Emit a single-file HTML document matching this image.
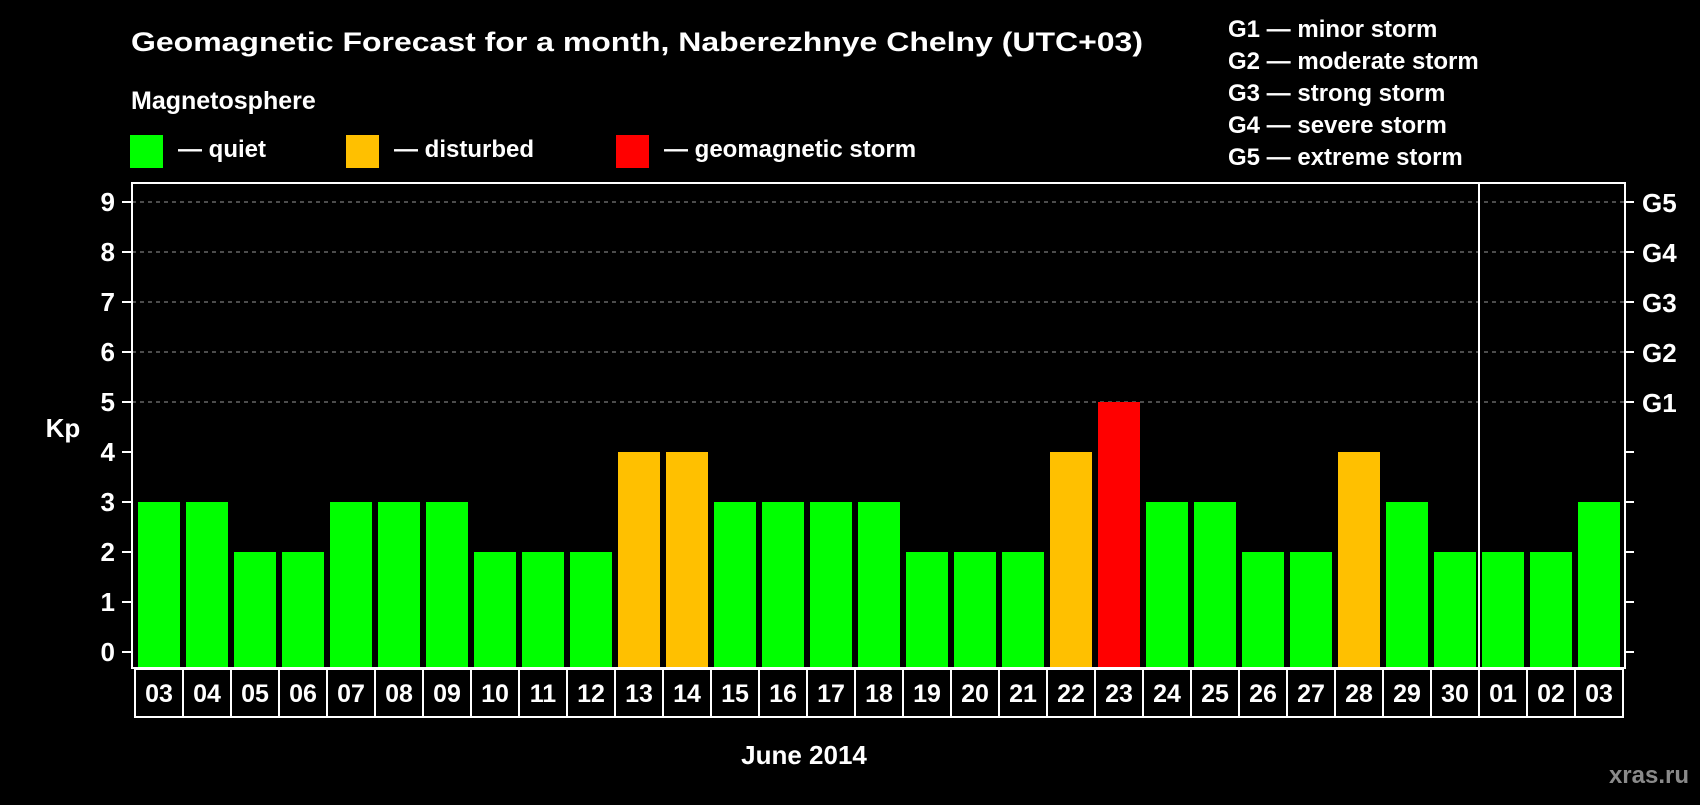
<!DOCTYPE html>
<html><head><meta charset="utf-8"><style>
html,body{margin:0;padding:0;background:#000;}
svg text{font-family:"Liberation Sans",Arial,sans-serif;font-weight:bold;fill:#fff;}
</style></head><body>
<svg id="chart" width="1700" height="800" xmlns="http://www.w3.org/2000/svg">
<rect width="1700" height="800" fill="#000"/>
<text x="131" y="51" font-size="27" textLength="1012" lengthAdjust="spacingAndGlyphs">Geomagnetic Forecast for a month, Naberezhnye Chelny (UTC+03)</text>
<text x="131" y="109" font-size="25">Magnetosphere</text>
<rect x="130" y="135" width="33" height="33" fill="#00ff00"/>
<text x="178" y="157" font-size="24">— quiet</text>
<rect x="346" y="135" width="33" height="33" fill="#ffc000"/>
<text x="394" y="157" font-size="24">— disturbed</text>
<rect x="616" y="135" width="33" height="33" fill="#ff0000"/>
<text x="664" y="157" font-size="24">— geomagnetic storm</text>
<g font-size="24">
<text x="1228" y="37">G1 — minor storm</text>
<text x="1228" y="69">G2 — moderate storm</text>
<text x="1228" y="101">G3 — strong storm</text>
<text x="1228" y="133">G4 — severe storm</text>
<text x="1228" y="165">G5 — extreme storm</text>
</g>
<text x="63" y="437" font-size="26" text-anchor="middle">Kp</text>
<text x="804" y="764" font-size="26" text-anchor="middle">June 2014</text>
<text x="1689" y="783" font-size="24" text-anchor="end" style="fill:#8a8a8a">xras.ru</text>
<g id="grid"></g><g id="bars"></g><g id="axes"></g><g id="xlabels"></g>
</svg>
<script>
const categories=["03","04","05","06","07","08","09","10","11","12","13","14","15","16","17","18","19","20","21","22","23","24","25","26","27","28","29","30","01","02","03"];
const kpValues=[3,3,2,2,3,3,3,2,2,2,4,4,3,3,3,3,2,2,2,4,5,3,3,2,2,4,3,2,2,2,3];
const yTicks=[0,1,2,3,4,5,6,7,8,9];
const gLabels=["","","","","","G1","G2","G3","G4","G5"];
const monthBreakIndex=28;
const NS="http://www.w3.org/2000/svg";
const plotL=132,plotR=1625,plotT=183,plotB=668,slot0=135,slotW=48,barW=42;
function yScale(v){return 652-50*v;}
function xSlot(i){return slot0+i*slotW;}
function mk(tag,attrs,parent){const e=document.createElementNS(NS,tag);for(const k in attrs)e.setAttribute(k,attrs[k]);parent.appendChild(e);return e;}
const grid=document.getElementById('grid'),bars=document.getElementById('bars'),axes=document.getElementById('axes'),xl=document.getElementById('xlabels');
yTicks.forEach((t,i)=>{
  const y=yScale(t);
  if(gLabels[i]){
    const g=mk('line',{x1:plotL,x2:plotR,y1:y,y2:y,stroke:'#999','stroke-width':1,'stroke-dasharray':'4,4'},grid);
    
    
  }
  const tl=mk('line',{x1:122,x2:plotL,y1:y,y2:y,stroke:'#fff','stroke-width':2},axes);
  
  
  const tr=mk('line',{x1:plotR,x2:1634,y1:y,y2:y,stroke:'#fff','stroke-width':2},axes);
  
  
  const lab=mk('text',{x:115,y:y+9,'font-size':26,'text-anchor':'end'},axes);
  lab.textContent=t;
  
  
  if(gLabels[i]){
    const gl=mk('text',{x:1642,y:y+10,'font-size':26},axes);
    gl.textContent=gLabels[i];
    
    
  }
});
kpValues.forEach((v,i)=>{
  const c=v>=5?'#ff0000':(v>=4?'#ffc000':'#00ff00');
  const y=yScale(v);
  const b=mk('rect',{x:xSlot(i)+3,y:y,width:barW,height:plotB-y,fill:c},bars);
  
  
  const cell=mk('rect',{x:xSlot(i),y:669,width:slotW,height:48,fill:'none',stroke:'#fff','stroke-width':2},xl);
  
  
  const t=mk('text',{x:xSlot(i)+slotW/2,y:702,'font-size':25,'text-anchor':'middle'},xl);
  t.textContent=categories[i];
  
  
});
const frame=mk('rect',{x:plotL,y:plotT,width:plotR-plotL,height:plotB-plotT,fill:'none',stroke:'#fff','stroke-width':2},axes);


const sep=mk('line',{x1:xSlot(monthBreakIndex),x2:xSlot(monthBreakIndex),y1:plotT,y2:plotB,stroke:'#fff','stroke-width':2},axes);


</script>
</body></html>
